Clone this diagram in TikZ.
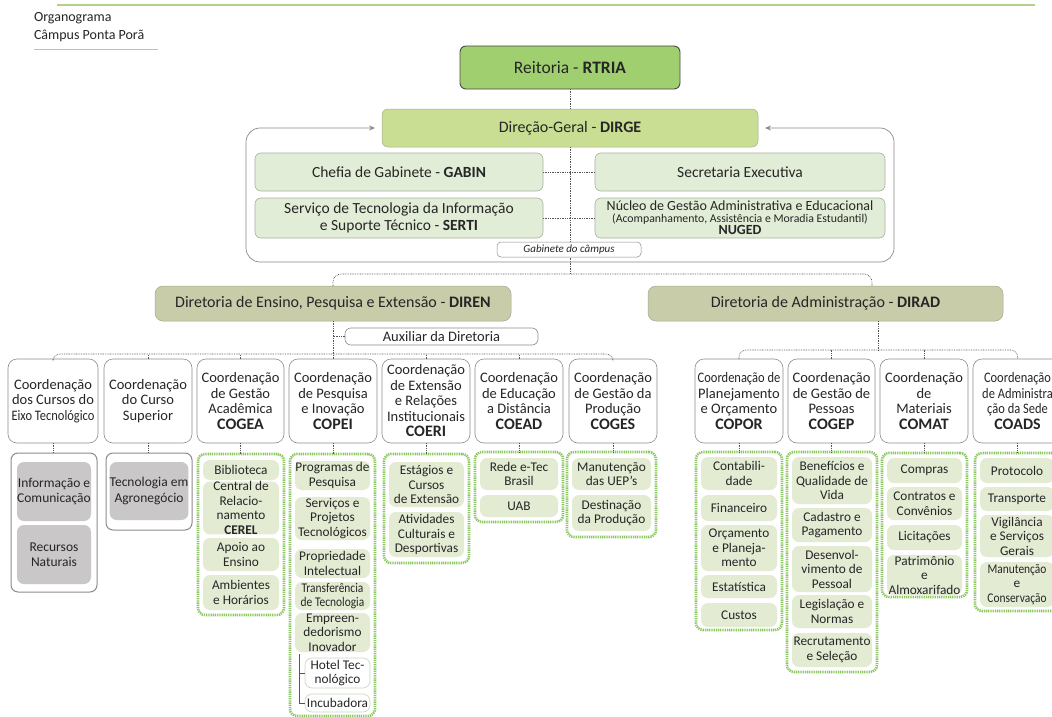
\documentclass[tikz,border=0pt]{standalone}
\usepackage{fontspec}
\setmainfont{Carlito}
\usepackage{graphicx}
\usetikzlibrary{arrows.meta}
\definecolor{txt}{HTML}{262626}
\definecolor{hdr}{HTML}{B3CF8C}
\definecolor{reitfill}{HTML}{A0CF70}
\definecolor{reitdraw}{HTML}{4A4A4A}
\definecolor{dirgefill}{HTML}{C9DE92}
\definecolor{dirgedraw}{HTML}{A6AE96}
\definecolor{gabfill}{HTML}{E2EDD7}
\definecolor{gabdraw}{HTML}{A9B0A0}
\definecolor{dirfill}{HTML}{C8CCA8}
\definecolor{dirdraw}{HTML}{A4A890}
\definecolor{coorddraw}{HTML}{8C8C8C}
\definecolor{grayitem}{HTML}{C9C7C7}
\definecolor{greendot}{HTML}{8CC862}
\definecolor{itemfill}{HTML}{E3EBD3}
\definecolor{itemborder}{HTML}{C9D6BE}
\definecolor{connc}{HTML}{555555}
\definecolor{outerc}{HTML}{8A8A8A}
\newcommand\fsz[2]{\fontsize{#1}{#2}\selectfont}
\newcommand\bx[7]{\node[#6, minimum width={(#4-#2)*1pt}, minimum height={(#5-#3)*1pt}] (#1) at ({(#2+#4)/2},{(#3+#5)/2}) {#7};}
\tikzset{
  every node/.style={text=txt, inner sep=0pt, outer sep=0pt},
  reit/.style={draw=reitdraw, line width=0.9pt, fill=reitfill, rounded corners=6pt, font=\fsz{17.5}{19}},
  dirgebox/.style={draw=dirgedraw, line width=0.5pt, fill=dirgefill, rounded corners=6pt, font=\fsz{16}{18}},
  gab/.style={draw=gabdraw, line width=0.6pt, fill=gabfill, rounded corners=6pt, font=\fsz{15.5}{16.5}, align=center},
  gabsmall/.style={draw=outerc, line width=0.5pt, fill=white, rounded corners=4pt, font=\fsz{11}{12}\itshape},
  dirbox/.style={draw=dirdraw, line width=0.5pt, fill=dirfill, rounded corners=8pt, font=\fsz{16}{18}},
  auxbox/.style={draw=coorddraw, line width=0.6pt, fill=white, rounded corners=6pt, font=\fsz{14.5}{16}},
  coord/.style={draw=coorddraw, line width=0.6pt, fill=white, rounded corners=9pt, font=\fsz{14.5}{15.5}, align=center},
  grp/.style={draw=coorddraw, line width=1pt, fill=white, rounded corners=7pt},
  ggrp/.style={draw=greendot, line width=2.6pt, dash pattern=on 1.3pt off 0.9pt, fill=white, rounded corners=7pt},
  gitem/.style={fill=grayitem, rounded corners=7pt, font=\fsz{13.5}{15.5}, align=center},
  item/.style={fill=itemfill, rounded corners=7pt, font=\fsz{13.3}{14.5}, align=center},
  witem/.style={draw=itemborder, line width=0.6pt, fill=white, rounded corners=7pt, font=\fsz{13.3}{14.5}, align=center},
  conn/.style={draw=connc, line width=0.6pt, dash pattern=on 0.8pt off 0.9pt},
  brk/.style={draw=connc, line width=0.8pt},
  outerln/.style={draw=outerc, line width=0.7pt},
}
\newcommand\sq[1]{\scalebox{0.86}[1]{#1}}
\newcommand\ab[1]{{\fsz{16}{17}\textbf{#1}}}
\begin{document}
\begin{tikzpicture}[x=1pt,y=-1pt]
\path[use as bounding box] (0,0) rectangle (1052,717);
\clip (0,0) rectangle (1052,717);
\fill[white] (0,0) rectangle (1052,717);
% header
\draw[hdr, line width=1.2pt] (57,5) -- (1035,5);
\node[anchor=west, font=\fsz{14}{15}] (org) at (34,18) {Organograma};
\node[anchor=west, font=\fsz{14}{15}] (cam) at (34,36) {Câmpus Ponta Porã};
\draw[hdr, line width=1pt] (34,50) -- (158,50);

% top
\bx{reit}{460}{46}{680}{89}{reit}{Reitoria - \textbf{RTRIA}}
\bx{dirge}{382}{109}{758}{147}{dirgebox}{Direção-Geral - \textbf{DIRGE}}
\coordinate (gabB) at (570,262);
\coordinate (gabL) at (246,128);
\coordinate (gabR) at (894,128);
\coordinate (brC) at (570,274);
\draw[conn] (reit.south) -- (dirge.north);
\draw[conn] (dirge.south) -- (brC);
\draw[outerln, rounded corners=14pt, -{Stealth[length=6pt,width=5pt]}, shorten >=7pt] (gabB) -| (gabL) -- (dirge.west);
\draw[outerln, rounded corners=14pt, -{Stealth[length=6pt,width=5pt]}, shorten >=7pt] (gabB) -| (gabR) -- (dirge.east);
\bx{gabin}{255}{153}{543}{191}{gab}{Chefia de Gabinete - \textbf{GABIN}}
\bx{secr}{595}{153}{885}{191}{gab}{Secretaria Executiva}
\bx{serti}{255}{198}{543}{238}{gab}{Serviço de Tecnologia da Informação\\e Suporte Técnico - \textbf{SERTI}}
\bx{nuged}{595}{198}{885}{238}{gab, font=\fsz{14}{12}}{Núcleo de Gestão Administrativa e Educacional\\{\fsz{11.8}{12}(Acompanhamento, Assistência e Moradia Estudantil)}\\\textbf{NUGED}}
\draw[conn] (gabin.east) -- (secr.west);
\draw[conn] (serti.east) -- (serti.east -| nuged.west);
\bx{gabc}{497}{242}{641}{257}{gabsmall}{Gabinete do câmpus}

% directorates
\bx{diren}{155}{286}{511}{321}{dirbox}{Diretoria de Ensino, Pesquisa e Extensão - \textbf{DIREN}}
\bx{dirad}{648}{286}{1003}{321}{dirbox}{Diretoria de Administração - \textbf{DIRAD}}
\coordinate (diradIn) at (872,286);
\draw[conn, rounded corners=8pt] (diren.north) |- (brC) -| (diradIn);

% DIREN branch
\bx{aux}{345}{328}{538}{345}{auxbox}{Auxiliar da Diretoria}
\coordinate (brE) at (333,354);
\draw[conn] (diren.south) -- (brE);
\draw[conn] (aux.west) -- (aux.west -| brE);

\bx{c1}{8}{359}{98}{443}{coord}{Coordenação\\dos Cursos do\\\sq{Eixo Tecnológico}}
\bx{c2}{104}{359}{192}{443}{coord}{Coordenação\\do Curso\\Superior}
\bx{c3}{197}{359}{284}{443}{coord}{Coordenação\\de Gestão\\Acadêmica\\\ab{COGEA}}
\bx{c4}{289}{359}{377}{443}{coord}{Coordenação\\de Pesquisa\\e Inovação\\\ab{COPEI}}
\bx{c5}{382}{359}{470}{443}{coord}{Coordenação\\de Extensão\\e Relações\\Institucionais\\\ab{COERI}}
\bx{c6}{475}{359}{563}{443}{coord}{Coordenação\\de Educação\\a Distância\\\ab{COEAD}}
\bx{c7}{569}{359}{657}{443}{coord}{Coordenação\\de Gestão da\\Produção\\\ab{COGES}}
\draw[conn, rounded corners=7pt] (c1.north) |- (brE) -| (c7.north);
\foreach \c in {c2,c3,c5,c6} {\draw[conn] (\c.north) -- (\c.north |- brE);}
\draw[conn] (c4.north) -- (brE);

% DIRAD branch
\coordinate (diradOut) at (878,321);
\coordinate (brA) at (878,350);
\draw[conn] (diradOut) -- (brA);
\bx{cA}{695}{359}{783}{443}{coord}{\sq{Coordenação de}\\Planejamento\\e Orçamento\\\ab{COPOR}}
\bx{cB}{788}{359}{875}{443}{coord}{Coordenação\\de Gestão de\\Pessoas\\\ab{COGEP}}
\bx{cC}{880}{359}{968}{443}{coord}{Coordenação\\de\\Materiais\\\ab{COMAT}}
\bx{cD}{973}{359}{1062}{443}{coord}{\sq{Coordenação}\\\sq{de Administra}\\\sq{ção da Sede}\\\ab{COADS}}
\draw[conn, rounded corners=7pt] (cA.north) |- (brA) -| (cD.north);
\foreach \c in {cB,cC} {\draw[conn] (\c.north) -- (\c.north |- brA);}

% groups DIREN
\bx{g1}{11}{453}{97}{592}{grp}{}
\bx{i11}{17}{462}{91}{521}{gitem}{Informação e\\Comunicação}
\bx{i12}{17}{525}{91}{584}{gitem}{Recursos\\Naturais}
\bx{g2}{106}{453}{192}{530}{grp}{}
\bx{i21}{112}{462}{186}{520}{gitem}{Tecnologia em\\Agronegócio}
\bx{g3}{198}{454}{284}{615}{ggrp}{}
\bx{i31}{203}{460}{279}{480}{item}{Biblioteca}
\bx{i32}{203}{483}{279}{533}{item}{Central de\\Relacio-\\namento\\\textbf{CEREL}}
\bx{i33}{203}{538}{279}{571}{item}{Apoio ao\\Ensino}
\bx{i34}{203}{575}{279}{610}{item}{Ambientes\\e Horários}
\bx{g4}{290}{454}{375}{716}{ggrp}{}
\bx{i41}{295}{461}{370}{490}{item}{Programas de\\Pesquisa}
\bx{i42}{295}{497}{370}{540}{item}{Serviços e\\Projetos\\Tecnológicos}
\bx{i43}{295}{549}{370}{578}{item}{Propriedade\\Intelectual}
\bx{i44}{295}{582}{370}{610}{item}{\sq{Transferência}\\\sq{de Tecnologia}}
\bx{i45}{295}{613}{370}{652}{item}{Empreen-\\dedorismo\\Inovador}
\bx{i46}{305}{658}{370}{688}{witem}{Hotel Tec-\\nológico}
\bx{i47}{305}{694}{370}{712}{witem}{Incubadora}
\coordinate (brkTop) at (299,654);
\draw[brk] (brkTop) |- (i47.west);
\draw[brk] (i46.west -| brkTop) -- (i46.west);
\bx{g5}{384}{454}{469}{563}{ggrp}{}
\bx{i51}{389}{462}{464}{507}{item}{Estágios e\\Cursos\\de Extensão}
\bx{i52}{389}{512}{464}{557}{item}{Atividades\\Culturais e\\Desportivas}
\bx{g6}{475}{452}{563}{522}{ggrp}{}
\bx{i61}{480}{458}{558}{490}{item}{Rede e-Tec\\Brasil}
\bx{i62}{480}{495}{558}{517}{item}{UAB}
\bx{g7}{567}{452}{656}{537}{ggrp}{}
\bx{i71}{572}{458}{651}{490}{item}{Manutenção\\das UEP’s}
\bx{i72}{572}{495}{651}{531}{item}{Destinação\\da Produção}

% groups DIRAD
\bx{gA}{696}{452}{782}{630}{ggrp}{}
\bx{iA1}{701}{457}{777}{490}{item}{Contabili-\\dade}
\bx{iA2}{701}{495}{777}{521}{item}{Financeiro}
\bx{iA3}{701}{525}{777}{571}{item}{Orçamento\\e Planeja-\\mento}
\bx{iA4}{701}{575}{777}{598}{item}{Estatística}
\bx{iA5}{701}{603}{777}{627}{item}{Custos}
\bx{gB}{787}{452}{877}{672}{ggrp}{}
\bx{iB1}{792}{457}{872}{504}{item}{Benefícios e\\Qualidade de\\Vida}
\bx{iB2}{792}{508}{872}{542}{item}{Cadastro e\\Pagamento}
\bx{iB3}{792}{546}{872}{592}{item}{Desenvol-\\vimento de\\Pessoal}
\bx{iB4}{792}{595}{872}{628}{item}{Legislação e\\Normas}
\bx{iB5}{792}{633}{872}{667}{item}{Recrutamento\\e Seleção}
\bx{gC}{882}{453}{967}{597}{ggrp}{}
\bx{iC1}{887}{458}{962}{483}{item}{Compras}
\bx{iC2}{887}{487}{962}{520}{item}{Contratos e\\Convênios}
\bx{iC3}{887}{525}{962}{550}{item}{Licitações}
\bx{iC4}{887}{555}{962}{595}{item}{Patrimônio\\e\\Almoxarifado}
\bx{gD}{975}{453}{1070}{611}{ggrp}{}
\bx{iD1}{980}{458}{1054}{483}{item}{Protocolo}
\bx{iD2}{980}{487}{1054}{511}{item}{Transporte}
\bx{iD3}{980}{515}{1054}{557}{item}{Vigilância\\e Serviços\\Gerais}
\bx{iD4}{980}{562}{1054}{607}{item}{\sq{Manutenção}\\e\\\sq{Conservação}}

% ticks from coordinations to groups
\foreach \c/\g in {c1/g1,c2/g2,c3/g3,c4/g4,c5/g5,c6/g6,c7/g7,cA/gA,cB/gB,cC/gC,cD/gD}
  {\draw[conn] (\c.south) -- (\c.south |- \g.north);}
\end{tikzpicture}
\end{document}
